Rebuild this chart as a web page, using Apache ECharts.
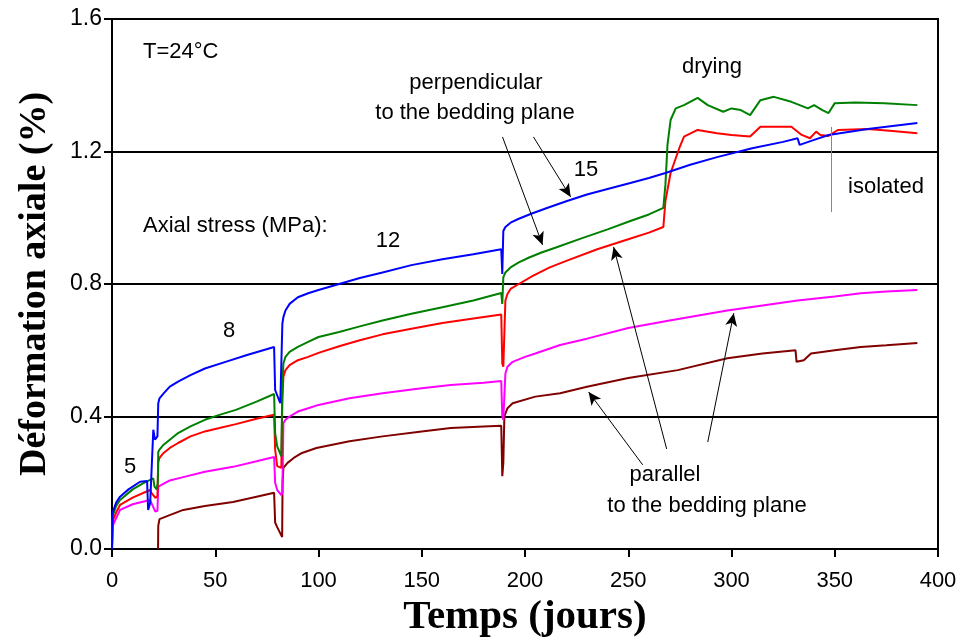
<!DOCTYPE html>
<html>
<head>
<meta charset="utf-8">
<script src="https://cdn.jsdelivr.net/npm/echarts@6/dist/echarts.min.js"></script>
<style>
  html, body { margin: 0; padding: 0; background: #fff; }
  #chart { width: 961px; height: 644px; }
</style>
</head>
<body>
<div id="chart"></div>
<script>
// axial strain (%) vs time (days)
const blueData = [
  [0, 0], [0.3, 0.11], [2, 0.14], [3.9, 0.158], [8, 0.18], [13.6, 0.203], [17, 0.205], [17.5, 0.118],
  [18.5, 0.14], [20, 0.36], [20.8, 0.33], [22, 0.34], [22.4, 0.44], [23, 0.455], [25, 0.47], [28, 0.49],
  [32, 0.505], [38, 0.525], [45, 0.545], [55, 0.565], [65, 0.585], [78.5, 0.61], [79, 0.48], [81.5, 0.44],
  [82.5, 0.68], [83, 0.70], [84, 0.72], [86, 0.74], [90, 0.76], [95, 0.772], [100, 0.782], [110, 0.80],
  [120, 0.818], [131, 0.835], [145, 0.857], [160, 0.875], [175, 0.89], [188.5, 0.905], [189, 0.83],
  [189.5, 0.96], [190.5, 0.972], [193, 0.985], [197, 0.997], [203, 1.012], [211, 1.03], [220, 1.05],
  [230, 1.07], [240, 1.087], [251, 1.105], [260, 1.12], [268, 1.135], [280, 1.16], [293, 1.183],
  [310, 1.21], [325, 1.229], [332, 1.24], [333, 1.22], [340, 1.235], [347, 1.25], [366, 1.268],
  [378, 1.277], [390, 1.286]
];
const greenData = [
  [0, 0], [0.3, 0.10], [2, 0.13], [3.9, 0.148], [10, 0.18], [15, 0.198], [20, 0.213], [20.5, 0.19],
  [21.6, 0.18], [22.2, 0.2], [22.4, 0.293], [23, 0.30], [25, 0.315], [28, 0.33], [32, 0.35], [38, 0.37],
  [45, 0.39], [52, 0.405], [60, 0.42], [70, 0.445], [78.5, 0.468], [79, 0.35], [80, 0.31], [82, 0.28],
  [82.5, 0.50], [83, 0.56], [84, 0.58], [86, 0.595], [90, 0.61], [95, 0.625], [100, 0.64], [110, 0.655],
  [120, 0.672], [131, 0.69], [145, 0.71], [160, 0.73], [175, 0.75], [188.5, 0.773], [189, 0.74],
  [189.5, 0.82], [190.5, 0.835], [193, 0.85], [197, 0.865], [202, 0.88], [208, 0.895], [215, 0.91],
  [227, 0.937], [240, 0.965], [251, 0.99], [260, 1.01], [267, 1.03], [268, 1.10], [269, 1.22],
  [270.5, 1.295], [273, 1.33], [277, 1.34], [283.6, 1.362], [288.5, 1.34], [296, 1.32], [300, 1.33],
  [304.5, 1.325], [309, 1.31], [314, 1.355], [320.5, 1.365], [329, 1.35], [337, 1.33], [340, 1.34],
  [344, 1.325], [347, 1.316], [350, 1.346], [360, 1.348], [374, 1.346], [390, 1.34]
];
const redData = [
  [0, 0], [0.3, 0.085], [2, 0.11], [3.9, 0.133], [10, 0.155], [18.4, 0.178], [19, 0.17], [21, 0.154],
  [22, 0.16], [22.4, 0.263], [23, 0.275], [25, 0.29], [28, 0.305], [32, 0.32], [38, 0.34], [45, 0.355],
  [52, 0.365], [60, 0.377], [70, 0.393], [78.5, 0.405], [79, 0.30], [80, 0.25], [82, 0.245], [82.5, 0.45],
  [83, 0.52], [84, 0.54], [86, 0.555], [90, 0.57], [95, 0.58], [100, 0.592], [110, 0.612], [120, 0.63],
  [131, 0.648], [145, 0.665], [160, 0.682], [175, 0.696], [188.5, 0.708], [189, 0.56], [189.5, 0.55],
  [190.5, 0.75], [191.5, 0.77], [193, 0.785], [197, 0.80], [204, 0.825], [212, 0.85], [220, 0.87],
  [235, 0.905], [250, 0.935], [260, 0.955], [267, 0.972], [268, 1.05], [270.5, 1.135], [275, 1.215],
  [277, 1.245], [283.6, 1.265], [293, 1.255], [300, 1.25], [309, 1.245], [314, 1.275], [322, 1.275],
  [329, 1.275], [334, 1.25], [338, 1.24], [341, 1.26], [343, 1.25], [347, 1.247], [351.5, 1.265],
  [366, 1.268], [378, 1.262], [390, 1.255]
];
const magentaData = [
  [0, 0], [0.3, 0.07], [3.9, 0.118], [10, 0.135], [18.4, 0.148], [19, 0.14], [21, 0.113], [22, 0.115],
  [22.4, 0.188], [23, 0.193], [28, 0.207], [34.5, 0.217], [45, 0.233], [58.6, 0.248], [70, 0.265],
  [78.5, 0.278], [79, 0.2], [80, 0.178], [82, 0.163], [82.5, 0.17], [83, 0.38], [84, 0.39], [86, 0.40],
  [90, 0.415], [95, 0.425], [100, 0.435], [115, 0.455], [131, 0.47], [150, 0.485], [164, 0.495],
  [180, 0.502], [188.5, 0.507], [189, 0.40], [189.5, 0.39], [190.5, 0.53], [191.5, 0.55], [194, 0.565],
  [200, 0.58], [205, 0.59], [217, 0.616], [230, 0.635], [250, 0.667], [270, 0.69], [298, 0.72],
  [315, 0.735], [332, 0.75], [350, 0.762], [362.6, 0.772], [375, 0.777], [390, 0.782]
];
const maroonData = [
  [22.3, 0], [22.4, 0.07], [23, 0.09], [27, 0.1], [34.5, 0.118], [45, 0.13], [58.6, 0.142], [70, 0.158],
  [78.5, 0.17], [79, 0.08], [80, 0.066], [82.4, 0.036], [82.6, 0.2], [83, 0.245], [85, 0.26], [88, 0.275],
  [92, 0.29], [99, 0.305], [115, 0.325], [131, 0.34], [150, 0.355], [164, 0.365], [180, 0.37],
  [188.5, 0.372], [189, 0.22], [189.5, 0.26], [190, 0.4], [191.5, 0.425], [194, 0.44], [205, 0.46],
  [217, 0.47], [230, 0.49], [250, 0.516], [274, 0.54], [298, 0.576], [315, 0.59], [331, 0.60],
  [331.5, 0.565], [335, 0.57], [338.5, 0.59], [350, 0.6], [362.6, 0.61], [375, 0.615], [390, 0.622]
];
const seriesColors = ['#0000ff', '#008000', '#ff0000', '#ff00ff', '#800000'];

// arrows [from, to] in data units
const arrowPairs = [
  [[189.1, 1.244], [208.5, 0.918]],
  [[204.1, 1.244], [222.1, 1.063]],
  [[257, 0.254], [230.8, 0.474]],
  [[268.6, 0.302], [242.9, 0.912]],
  [[288.5, 0.323], [301.1, 0.712]]
];
const isolatedLine = [[348.5, 1.274], [348.5, 1.017]];

const sans = 'Liberation Sans, Arial, sans-serif';
const serif = 'Liberation Serif, Times New Roman, serif';

const chart = echarts.init(document.getElementById('chart'));

function lineSeries(data, color) {
  return {
    type: 'line',
    data: data,
    showSymbol: false,
    symbol: 'none',
    silent: true,
    lineStyle: { color: color, width: 2 },
    itemStyle: { color: color }
  };
}

const markData = arrowPairs.map(p => [{ coord: p[0] }, { coord: p[1] }]);
markData.push([
  { coord: isolatedLine[0], symbol: 'none', lineStyle: { color: '#888', width: 1 } },
  { coord: isolatedLine[1], symbol: 'none', lineStyle: { color: '#888', width: 1 } }
]);

const series = [
  lineSeries(maroonData, seriesColors[4]),
  lineSeries(magentaData, seriesColors[3]),
  lineSeries(redData, seriesColors[2]),
  lineSeries(greenData, seriesColors[1]),
  lineSeries(blueData, seriesColors[0])
];
series.push({
  type: 'line',
  data: [],
  silent: true,
  markLine: {
    silent: true,
    symbol: ['none', 'arrow'],
    symbolSize: [9, 13],
    label: { show: false },
    lineStyle: { color: '#000', width: 1, type: 'solid' },
    emphasis: { disabled: true },
    data: markData
  }
});

function label(text, x, y, align) {
  return {
    type: 'text',
    x: x,
    y: y,
    silent: true,
    style: {
      text: text,
      font: '22px ' + sans,
      fill: '#000',
      align: align || 'center',
      verticalAlign: 'middle'
    }
  };
}

chart.setOption({
  animation: false,
  backgroundColor: '#fff',
  grid: {
    left: 112, right: 23, top: 19, bottom: 95,
    show: true, borderColor: '#000', borderWidth: 2
  },
  xAxis: {
    type: 'value',
    min: 0, max: 400, interval: 50,
    name: 'Temps (jours)',
    nameLocation: 'middle',
    nameGap: 46,
    nameTextStyle: { fontFamily: serif, fontWeight: 'bold', fontSize: 41, color: '#000' },
    axisLine: { lineStyle: { color: '#000', width: 2 } },
    axisTick: { inside: false, length: 8, lineStyle: { color: '#000', width: 2 } },
    axisLabel: { fontFamily: sans, fontSize: 22, color: '#000', margin: 21 },
    splitLine: { show: false }
  },
  yAxis: {
    type: 'value',
    min: 0, max: 1.6, interval: 0.4,
    name: 'Déformation axiale (%)',
    nameLocation: 'middle',
    nameGap: 58,
    nameTextStyle: { fontFamily: serif, fontWeight: 'bold', fontSize: 38, color: '#000' },
    axisLine: { lineStyle: { color: '#000', width: 2 } },
    axisTick: { inside: false, length: 8, lineStyle: { color: '#000', width: 2 } },
    axisLabel: { fontFamily: sans, fontSize: 23, color: '#000', margin: 10,
      formatter: v => v.toFixed(1) },
    splitLine: { show: true, lineStyle: { color: '#000', width: 2 } }
  },
  series: series,
  graphic: [
    label('T=24°C', 143, 52, 'left'),
    label('drying', 712, 67),
    label('perpendicular', 476, 83),
    label('to the bedding plane', 475, 113),
    label('15', 586, 170),
    label('12', 388, 241),
    label('8', 229, 331),
    label('5', 130, 467),
    label('Axial stress (MPa):', 143, 226, 'left'),
    label('isolated', 886, 187),
    label('parallel', 665, 475),
    label('to the bedding plane', 707, 506)
  ]
});
</script>
</body>
</html>
